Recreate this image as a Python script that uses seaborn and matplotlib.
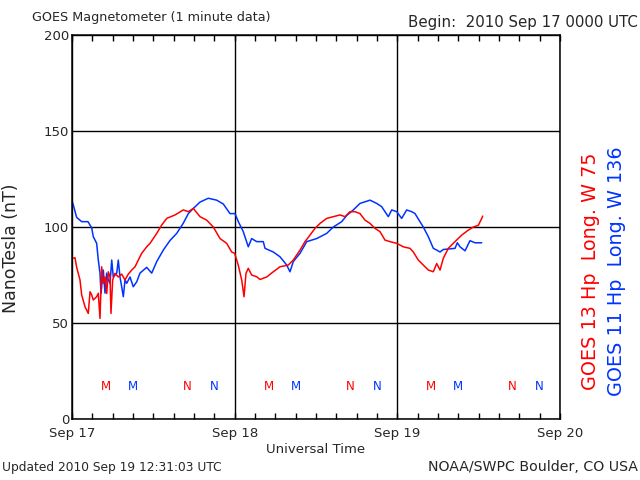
import pandas as pd
import seaborn as sns
import matplotlib
matplotlib.use("Agg")
import matplotlib.pyplot as plt

# Hours since 2010 Sep 17 0000 UTC, values in nT
g13_hours = [0.1, 0.44, 0.69, 1.18, 1.43, 1.92, 2.40, 2.66, 2.91, 3.14, 3.64, 3.88,
             4.13, 4.38, 4.62, 4.87, 5.12, 5.36, 5.61, 5.75, 6.0, 6.34, 6.83, 7.33,
             7.82, 8.31, 8.81, 9.30, 9.78, 10.28, 11.02, 11.51, 12.50, 13.23, 13.97,
             15.20, 16.42, 17.16, 17.90, 18.89, 19.87, 20.85, 21.84, 22.82, 23.56,
             24.0, 24.54, 25.04, 25.38, 25.67, 26.01, 26.51, 27.25, 27.74, 28.73,
             29.70, 30.69, 31.91, 32.65, 33.64, 34.38, 35.11, 35.85, 36.59, 37.58,
             38.55, 39.54, 40.28, 41.02, 41.75, 42.49, 43.23, 43.97, 44.71, 45.44,
             46.18, 46.92, 47.91, 48.88, 49.87, 50.36, 51.09, 51.83, 52.57, 53.31,
             53.81, 54.30, 54.78, 55.52, 56.51, 57.50, 58.47, 59.21, 59.95, 60.45, 60.60]
g13_nt = [83.7, 84, 79, 72.4, 64.6, 58.5, 55, 66.3, 64.6, 62, 63.7, 65.5,
          52.4, 79.3, 70.7, 74, 65.4, 76.7, 74, 55, 72.4, 75.9, 74, 75.5,
          72.4, 75.5, 77.6, 79.3, 82.8, 86.3, 89.7, 91.5, 96.7, 101, 104.5,
          106.3, 108.9, 108, 109.7, 105.4, 103.6, 100, 94, 91.5, 87,
          86.3, 80, 72.4, 63.7, 75.9, 78.5, 75, 74.1, 72.7, 74,
          76.7, 79.3, 80.2, 82.8, 88, 92.4, 95.8, 99.3, 101.9, 104.5,
          105.4, 106.3, 105.4, 108, 108, 107, 103.6, 101.9, 99.3, 97.6,
          93.2, 92.4, 91.5, 89.7, 88.9, 87, 82.8, 80.2, 77.6, 76.7,
          81, 77.6, 83.7, 88.9, 92.4, 95.8, 98.4, 100, 100.9, 104.5, 105.7]

g11_hours = [0.1, 0.69, 1.43, 2.36, 2.91, 3.14, 3.64, 3.88, 4.13, 4.28, 4.62, 4.87,
             5.12, 5.36, 5.61, 5.86, 6.09, 6.60, 6.83, 7.08, 7.33, 7.57, 7.82, 8.07,
             8.56, 9.04, 9.55, 10.03, 11.02, 11.76, 12.50, 13.47, 14.46, 15.45,
             16.42, 17.16, 17.90, 18.89, 20.11, 21.35, 22.32, 23.31, 24.05, 24.54,
             25.27, 26.01, 26.51, 27.25, 28.22, 28.48, 29.70, 30.69, 31.68, 32.16,
             32.65, 33.64, 34.63, 36.10, 37.58, 38.55, 39.79, 40.53, 41.50, 42.49,
             43.97, 44.96, 45.69, 46.67, 47.17, 47.91, 48.64, 49.38, 50.12, 50.61,
             51.34, 51.83, 52.57, 53.31, 53.81, 54.30, 54.78, 56.51, 56.85, 57.25,
             57.99, 58.72, 59.46, 60.45]
g11_nt = [112.7, 105, 102.8, 102.8, 99.5, 95, 91.5, 82.8, 76, 65.4, 77.6, 65.6,
          76, 72.4, 70.7, 82.8, 74, 76, 82.8, 74, 68.9, 63.7, 72.4, 70.7,
          74, 68.9, 71.5, 76, 79, 76, 82, 88, 93, 96.7,
          102, 107, 109.7, 113, 115, 114, 112, 107, 107, 102.8,
          97.6, 89.7, 94, 92.4, 92.4, 88.9, 87, 84.5, 80.2, 76.7,
          82, 86.3, 92.4, 94, 96.7, 100, 102.8, 106, 108.9, 112.3,
          114, 112.3, 110.6, 105.4, 108.9, 108, 104.5, 108.9, 108, 107,
          102.8, 100, 95, 88.9, 88, 87, 88.3, 88.9, 91.8, 89.7,
          87.6, 92.9, 91.8, 91.8]

# local noon (M) / midnight (N) markers, hours since start
g13_m = [5, 29, 53]
g13_n = [17, 41, 65]
g11_m = [9, 33, 57]
g11_n = [21, 45, 69]

day_labels = ["Sep 17", "Sep 18", "Sep 19", "Sep 20"]
red = "#ff0000"
blue = "#0033ff"

df = pd.concat([
    pd.DataFrame({"hours": g13_hours, "nT": g13_nt, "sat": "GOES 13"}),
    pd.DataFrame({"hours": g11_hours, "nT": g11_nt, "sat": "GOES 11"}),
])

sns.set_theme(style="white")
plt.rcParams["font.family"] = ["DejaVu Sans"]

fig = plt.figure(figsize=(6.4, 4.8), dpi=100)
ax = fig.add_axes([0.1125, 0.127, 0.7625, 0.8])

sns.lineplot(data=df, x="hours", y="nT", hue="sat", palette={"GOES 13": red, "GOES 11": blue},
             hue_order=["GOES 11", "GOES 13"], sort=False,
             linewidth=1.1, legend=False, ax=ax)

for hrs, txt, col in [(g13_m, "M", red), (g13_n, "N", red), (g11_m, "M", blue), (g11_n, "N", blue)]:
    for h in hrs:
        ax.text(h, 17, txt, color=col, fontsize=8.5, ha="center", va="center")

ax.set_xlim(0, 72)
ax.set_ylim(0, 200)
ax.set_xticks([0, 24, 48, 72])
ax.set_xticklabels(day_labels, fontsize=9.5)
ax.set_xticks(range(0, 73, 3), minor=True)
ax.set_yticks([0, 50, 100, 150, 200])
ax.set_yticklabels(["0", "50", "100", "150", "200"], fontsize=9.5)
ax.tick_params(axis="x", which="both", direction="in", top=True, bottom=True,
               length=4, width=1, color="black", pad=6)
ax.tick_params(axis="y", length=0, pad=2)
ax.grid(True, color="black", linewidth=1.0)
for s in ax.spines.values():
    s.set_color("black")
    s.set_linewidth(1.1)
ax.set_xlabel("Universal Time", fontsize=9.5, labelpad=2)
ax.set_ylabel("NanoTesla (nT)", fontsize=12.5)
ax.yaxis.set_label_coords(-0.107, 0.445)

fig.text(32 / 640, 1 - 18 / 480, "GOES Magnetometer (1 minute data)", fontsize=9.2, va="center")
fig.text(638 / 640, 1 - 22 / 480, "Begin:  2010 Sep 17 0000 UTC", fontsize=10.8, va="center", ha="right")
fig.text(2 / 640, 1 - 467 / 480, "Updated 2010 Sep 19 12:31:03 UTC", fontsize=8.8, va="center")
fig.text(638 / 640, 1 - 467 / 480, "NOAA/SWPC Boulder, CO USA", fontsize=10.2, va="center", ha="right")
fig.text(590 / 640, 1 - 271 / 480, "GOES 13 Hp  Long. W 75", fontsize=13.8, color=red,
         rotation=90, ha="center", va="center")
fig.text(617 / 640, 1 - 271 / 480, "GOES 11 Hp  Long. W 136", fontsize=13.8, color=blue,
         rotation=90, ha="center", va="center")

fig.savefig("out.png", dpi=100)
